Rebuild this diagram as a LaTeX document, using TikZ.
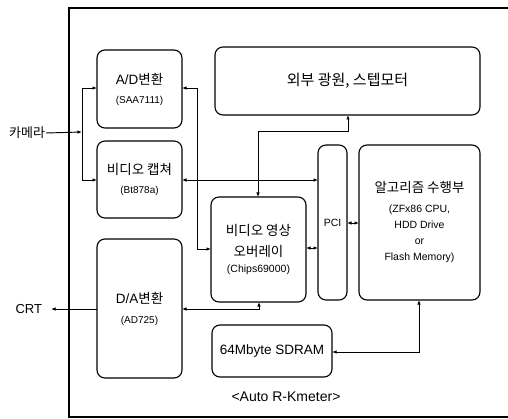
\documentclass[tikz,border=0pt]{standalone}
\usepackage{fontspec}
\setmainfont{Liberation Sans}
\newfontfamily\kr{Noto Sans CJK KR}
\usetikzlibrary{arrows.meta}
\begin{document}
\begin{tikzpicture}[x=1pt,y=-1pt,
  box/.style={draw,rounded corners=8pt,line width=1.1pt,inner sep=0pt,outer sep=0pt,align=center},
  wire/.style={line width=0.95pt},
  tip/.tip={Latex[length=4.5pt,width=3.5pt]},
  lbl/.style={inner sep=1pt,outer sep=0pt}]
\useasboundingbox (0,0) rectangle (508,419);
% frame
\draw[line width=1.1pt] (508,8) -- (69,8) -- (69,417) -- (508,417);

% boxes
\node[box,minimum width=85pt,minimum height=78pt,font=\fontsize{13.5}{19}\selectfont] (ad) at (139.5,89)
  {A/D{\kr 변환}\\{\fontsize{10}{12}\selectfont (SAA7111)}};
\node[box,minimum width=85pt,minimum height=77pt,font=\fontsize{13.5}{19}\selectfont] (cap) at (139.5,179.5)
  {{\kr 비디오 캡쳐}\\{\fontsize{10}{12}\selectfont (Bt878a)}};
\node[box,minimum width=85pt,minimum height=139pt,font=\fontsize{13.5}{20}\selectfont] (da) at (139.5,308.5)
  {D/A{\kr 변환}\\{\fontsize{10}{12}\selectfont (AD725)}};
\node[box,minimum width=265pt,minimum height=68pt,font=\fontsize{15}{18}\selectfont\kr] (ext) at (347.5,81)
  {외부 광원, 스텝모터};
\node[box,minimum width=29pt,minimum height=155pt,font=\fontsize{10.5}{12}\selectfont] (pci) at (332.5,222.5)
  {PCI};
\node[box,minimum width=121pt,minimum height=155pt,font=\fontsize{10.5}{16}\selectfont] (alg) at (419.5,222.5)
  {{\fontsize{13.5}{16}\selectfont\kr 알고리즘 수행부}\\[4pt](ZFx86 CPU,\\HDD Drive\\or\\Flash Memory)};
\node[box,minimum width=95pt,minimum height=105pt,font=\fontsize{13.5}{21}\selectfont] (ov) at (258.5,249.5)
  {{\kr 비디오 영상}\\{\kr 오버레이}\\[-5pt]{\fontsize{10.5}{12}\selectfont (Chips69000)}};
\node[box,minimum width=120pt,minimum height=52pt,font=\fontsize{13.5}{16}\selectfont] (sd) at (272,351)
  {64Mbyte SDRAM};

% outside labels
\node[lbl,font=\fontsize{13}{16}\selectfont\kr,anchor=east] (cam) at (46,133) {카메라};
\node[lbl,font=\fontsize{13}{16}\selectfont,anchor=east] (crt) at (43,309) {CRT};
\node[lbl,font=\fontsize{14}{16}\selectfont] (title) at (286,397) {<Auto R-Kmeter>};

% bend points
\coordinate (jc) at (82,132);
\coordinate (ca1) at (82,88);
\coordinate (ca2) at (82,180);
\coordinate (b1) at (197,88);
\coordinate (b2) at (197,249);
\coordinate (c1) at (258,131);
\coordinate (c2) at (348,131);
\coordinate (d1) at (259,309);
\coordinate (e1) at (419,352);
\coordinate (crtend) at (51,309);

% connectors
\draw[wire,-tip] (cam.east) -- (jc);
\draw[wire,tip-tip] (ad.west|-ca1) -- (ca1) -- (ca2) -- (cap.west|-ca2);
\draw[wire,tip-tip] (ad.east|-b1) -- (b1) -- (b2) -- (ov.west|-b2);
\draw[wire,tip-tip] (cap.east|-ca2) -- (pci.west|-ca2);
\draw[wire,tip-tip] (ov.north-|c1) -- (c1) -- (c2) -- (ext.south-|c2);
\draw[wire,tip-tip] (ov.east|-0,248) -- (pci.west|-0,248);
\draw[wire,tip-tip] (pci.east|-0,223) -- (alg.west|-0,223);
\draw[wire,tip-tip] (da.east|-d1) -- (d1) -- (ov.south-|d1);
\draw[wire,-tip] (da.west|-crtend) -- (crtend);
\draw[wire,tip-tip] (sd.east|-e1) -- (e1) -- (alg.south-|e1);
\end{tikzpicture}
\end{document}
